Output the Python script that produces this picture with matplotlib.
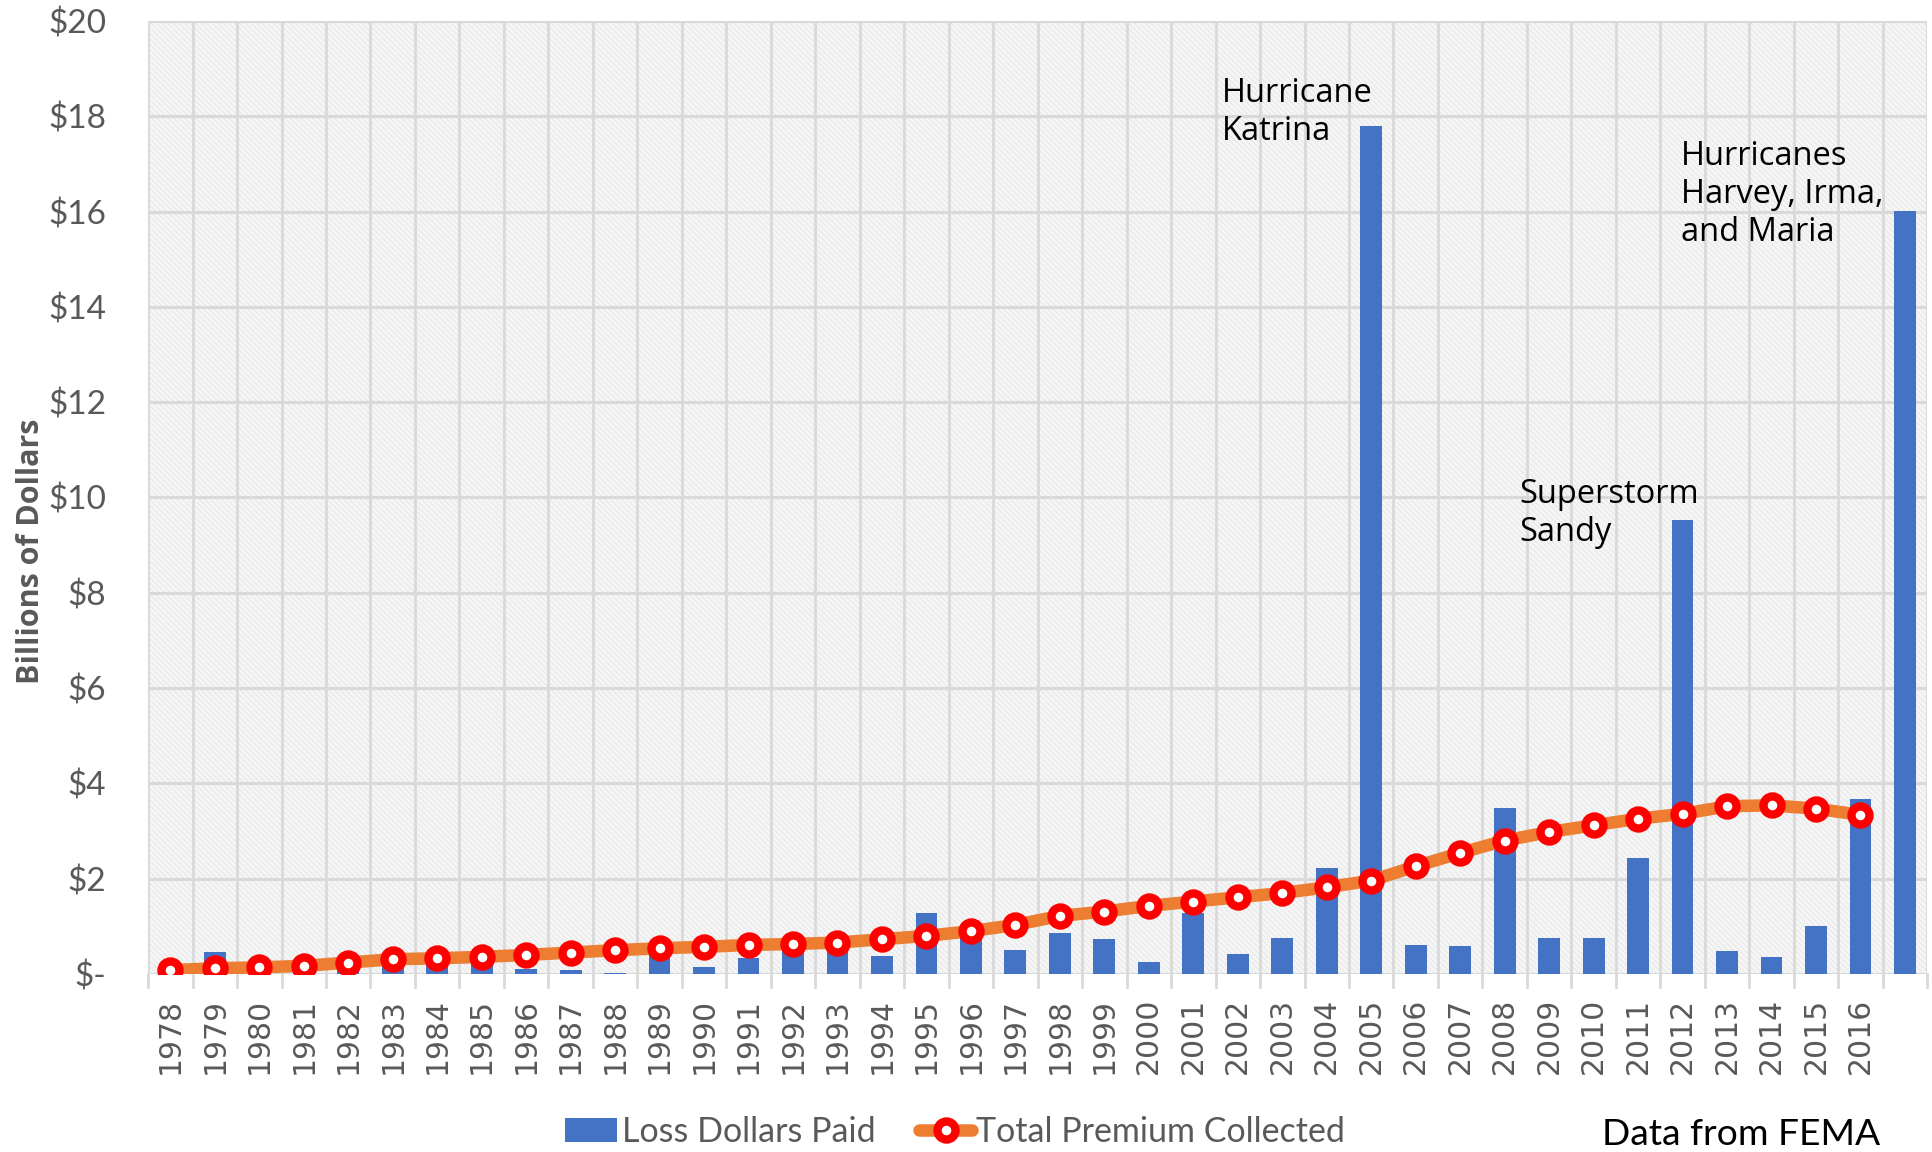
import matplotlib.pyplot as plt
from matplotlib.lines import Line2D
from matplotlib.patches import Patch
import numpy as np

plt.rcParams['hatch.linewidth'] = 0.5

years = list(range(1978, 2018))
year_labels = [str(y) for y in range(1978, 2017)] + [""]

# loss dollars paid, billions
loss_paid = [0.02, 0.47, 0.05, 0.05, 0.15, 0.25, 0.25, 0.30, 0.11, 0.09,
             0.03, 0.42, 0.15, 0.33, 0.55, 0.60, 0.38, 1.28, 0.88, 0.50,
             0.87, 0.74, 0.25, 1.27, 0.41, 0.75, 2.22, 17.8, 0.61, 0.59,
             3.48, 0.75, 0.75, 2.43, 9.52, 0.48, 0.35, 1.00, 3.67, 16.02]

# total premium collected, billions (1978-2016)
premium = [0.08, 0.12, 0.14, 0.17, 0.24, 0.31, 0.33, 0.36, 0.40, 0.45,
           0.50, 0.54, 0.57, 0.61, 0.63, 0.66, 0.73, 0.80, 0.90, 1.03,
           1.22, 1.31, 1.43, 1.52, 1.61, 1.70, 1.82, 1.96, 2.26, 2.54,
           2.80, 2.98, 3.12, 3.26, 3.36, 3.52, 3.54, 3.47, 3.34]

yticks = list(range(0, 21, 2))
ytick_labels = ["$-"] + ["$" + str(v) for v in yticks[1:]]

# text, bar year, x offset (categories), y centre of the block
annotations = [
    ("Hurricane\nKatrina", 2005, -3.36, 18.07),
    ("Superstorm\nSandy", 2012, -3.68, 9.66),
    ("Hurricanes\nHarvey, Irma,\nand Maria", 2016, -4.04, 16.35),
]

grey = '#595959'
fig = plt.figure(figsize=(19.33, 11.52), dpi=100)
ax = fig.add_axes([0.0766, 0.1545, 0.9204, 0.8273])

ax.set_facecolor('#f5f5f5')
ax.add_patch(plt.Rectangle((0, 0), 1, 1, transform=ax.transAxes, facecolor='none',
                           edgecolor='#e2e2e2', lw=0, hatch='\\\\\\\\\\\\', zorder=0))

x = np.arange(len(years))
ax.bar(x, loss_paid, width=0.49, color='#4472C4', zorder=3)
line_style = dict(color='#ED7D31', lw=9, marker='o', ms=13, mfc='white',
                  mec='#FF0000', mew=6, solid_capstyle='round')
ax.plot(x[:len(premium)], premium, zorder=4, **line_style)

ax.set_xlim(-0.5, len(years) - 0.5)
ax.set_ylim(0, 20)
ax.set_yticks(yticks)
ax.set_yticklabels(ytick_labels, fontsize=24, color=grey, family='Lato')
ax.set_xticks(x)
ax.set_xticklabels(year_labels, rotation=90, fontsize=21.5, color=grey, family='DejaVu Sans')
ax.tick_params(axis='x', length=0, pad=17)
ax.tick_params(axis='y', length=0, pad=30)

# gridlines
for b in np.arange(-0.5, len(years) + 0.5, 1):
    ax.axvline(b, color='#d9d9d9', lw=2, zorder=1)
    ax.plot([b, b], [0, -0.28], color='#d9d9d9', lw=2, clip_on=False, zorder=1)
for v in yticks:
    ax.axhline(v, color='#d9d9d9', lw=2.2, zorder=1)
for s in ax.spines.values():
    s.set_visible(False)

for txt, yr, dx, yv in annotations:
    ax.text(yr - 1978 + dx, yv, txt, fontsize=23.5, family='Open Sans',
            color='black', va='center', ha='left', linespacing=1.2, zorder=5)

fig.text(0.016, 0.521, "Billions of Dollars", rotation=90, fontsize=22, fontweight='bold',
         color=grey, family='Open Sans', va='center', ha='center')

handles = [Patch(facecolor='#4472C4'), Line2D([], [], **line_style)]
leg = fig.legend(handles, ["Loss Dollars Paid", "Total Premium Collected"], loc='center',
                 bbox_to_anchor=(0.494, 0.0175), ncol=2, frameon=False,
                 handlelength=1.55, handletextpad=0.12, columnspacing=1.3, borderpad=0,
                 prop={'family': 'Lato', 'size': 24.5})
for t in leg.get_texts():
    t.set_color(grey)

fig.text(0.829, 0.0155, "Data from FEMA", fontsize=26.8, color='black', family='Lato',
         ha='left', va='center')

fig.savefig("out.png", dpi=100)
